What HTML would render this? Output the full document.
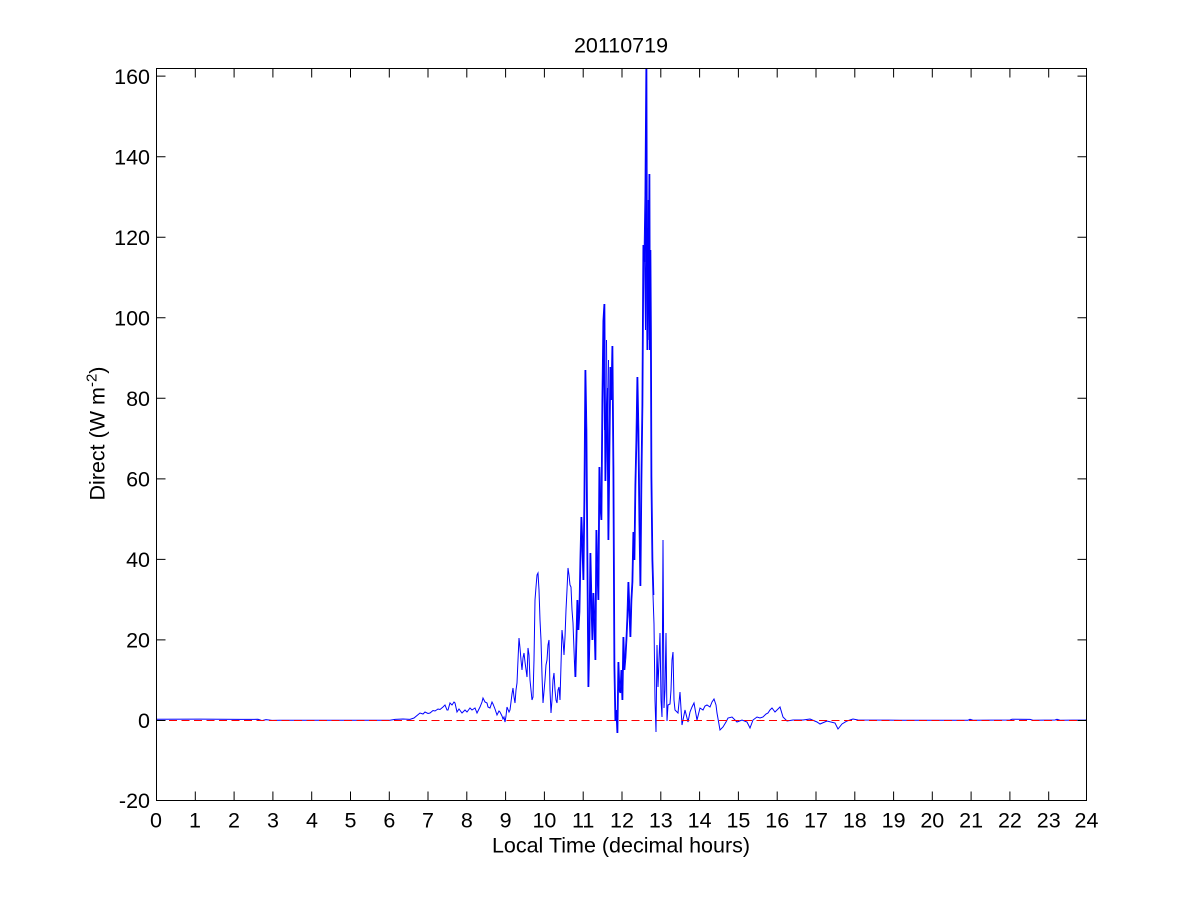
<!DOCTYPE html>
<html>
<head>
<meta charset="utf-8">
<style>
  html,body{margin:0;padding:0;background:#fff;}
  svg{display:block;}
  text{font-family:"Liberation Sans", Arial, sans-serif;fill:#000;}
</style>
</head>
<body>
<svg width="1201" height="900" viewBox="0 0 1201 900" xmlns="http://www.w3.org/2000/svg">
  <rect x="0" y="0" width="1201" height="900" fill="#fff"/>
  <defs>
    <clipPath id="plot"><rect x="156.5" y="68.5" width="930" height="732"/></clipPath>
  </defs>

  <!-- data -->
  <g clip-path="url(#plot)">
    <polyline fill="none" stroke="#0000ff" stroke-width="1" stroke-linejoin="miter" points="
156.5,719.3 200,719.1 240,719.4 258,719.3 262,720.6 266,719.6 272,720.4 280,720.2 390,720.2 395,719.4 403,719 410,719.4 414,718 420,713 423,714 425,712 428,713.5 430,713 433,710.5 435,711 438,709 440,709.5 443,707 445,705 447,710 448,710 450,703 452,705 454,702 455,703 457,712 459,709 462,713 465,710 467,712 470,708 472,710 475,708 477,713 479,709 480,707 482,702 483,698 485,702 487,703 488,707 490,708 492,702 493,704 495,709 497,715 499,711 500,712 502,716 503,719 504,717 505,722 506,716 507,707 509,712 510,710 512,694 513,688 514,697 515,703 516,690 517,683 518,660 519,638 520,648 521,660 522,670 523,658 524,653 525,662 527,677 528,648 529,655 530,680 531,690 532,700 533,697 534,660 535,600 536,587 537,575 538,573 539,590 540,620 541,640 542,675 543,703 545,680 546,665 547,660 548,645 549,640 550,690 551,713 552,700 553,680 554,673 555,690 556,700 557,703 558,690 559,687 560,700 561,665 562,630 563,640 564,655 565,637 566,610 567,590 568,568 569,575 570,585 571,587 572,610 573,623 574,650 575,677 576,640 577,600 578,630 579,612 580,560 581,517 582,545 583,580 584,500 585,370 586,430 587,560 588,687 589,640 590,553 591,600 592,640 593,593 594,620 595,660 596,530 597,570 598,600 599,467 600,506 601,520 602,400 603,321 604,304 605,481 606,420 607,388 608,540 609,450 610,367 611,400 612,346 613,468 614,666 615,721 616,710 617,733 618,662 619,690 620,693 621,670 622,700 623,637 624,670 625,658 626,640 627,617 628,582 629,610 630,637 631,600 632,582 633,532 634,560 635,485 636,440 637,377 638,430 639,520 640,586 641,480 642,405 643,245 644,262 645,195 646,60 646.6,300 647,350 647.5,260 648,228 648.5,260 649,174 649.5,350 650,250 650.5,330 651,477 652,560 653,595 654,624 655,700 656,732 657,645 658,687 659,660 660,633 661,700 662,717 663,540 664,708 665,690 666,633 667,721 668,705 670,704 671,690 672,660 673,652 674,700 675,710 677,712 678,713 680,692 682,725 685,710 688,722 690,712 692,707 694,703 697,720 700,708 703,710 705,706 707,705 710,707 712,702 714,699 716,705 717,713 720,730 723,727 726,722 728,718 732,717 735,720 737,722 742,720 747,722 750,728 753,720 757,717 760,718 763,717 766,714 768,713 770,710 772,708 775,712 778,709 780,707 783,717 787,721 793,720 803,720 810,719 817,722 820,724 827,721 835,723 838,729 842,724 847,721 853,719 858,720 900,720.2 968,720.2 970,719.3 973,720.2 1010,720 1012,719.2 1030,719.4 1033,720.2 1055,720 1057,719.3 1060,720.2 1086,720 1087,719"/>
    <!-- densifying overlay for the busy midday region -->
    <polyline fill="none" stroke="#0000ff" stroke-width="1" transform="translate(0.8,0)" points="
575,677 576,640 577,600 578,630 579,612 580,560 581,517 582,545 583,580 584,500 585,370 586,430 587,560 588,687 589,640 590,553 591,600 592,640 593,593 594,620 595,660 596,530 597,570 598,600 599,467 600,506 601,520 602,400 603,321 604,304 605,481 606,420 607,388 608,540 609,450 610,367 611,400 612,346 613,468 614,666 615,721 616,710 617,733 618,662 619,690 620,693 621,670 622,700 623,637 624,670 625,658 626,640 627,617 628,582 629,610 630,637 631,600 632,582 633,532 634,560 635,485 636,440 637,377 638,430 639,520 640,586 641,480 642,405 643,245 644,262 645,195 646,60 646.6,300 647,350 647.5,260 648,228 648.5,260 649,174 649.5,350 650,250 650.5,330 651,477 652,560 653,595"/>
    <path fill="none" stroke="#0000ff" stroke-width="1" d="M646.5,180 L647.5,330 L648.2,200 L649.2,340 M644.5,250 L645.5,330 L646,200 M606.5,340 L607.5,470 L608.5,360 M603.5,330 L604.5,430"/>
    <line x1="156.5" y1="720.5" x2="1086.5" y2="720.5" stroke="#ff0000" stroke-width="1" stroke-dasharray="8 4.5"/>
  </g>

  <!-- axes box -->
  <rect x="156.5" y="68.5" width="930" height="732" fill="none" stroke="#000" stroke-width="1"/>

  <!-- ticks -->
  <g stroke="#000" stroke-width="1">
    <path d="
M156.5,800.5v-9 M195.3,800.5v-9 M234.1,800.5v-9 M272.9,800.5v-9 M311.7,800.5v-9 M350.5,800.5v-9 M389.3,800.5v-9 M428.0,800.5v-9 M466.8,800.5v-9 M505.6,800.5v-9 M544.4,800.5v-9 M583.2,800.5v-9 M622.0,800.5v-9 M660.8,800.5v-9 M699.6,800.5v-9 M738.4,800.5v-9 M777.2,800.5v-9 M816.0,800.5v-9 M854.8,800.5v-9 M893.6,800.5v-9 M932.3,800.5v-9 M971.1,800.5v-9 M1009.9,800.5v-9 M1048.7,800.5v-9 M1086.5,800.5v-9
M156.5,68.5v9 M195.3,68.5v9 M234.1,68.5v9 M272.9,68.5v9 M311.7,68.5v9 M350.5,68.5v9 M389.3,68.5v9 M428.0,68.5v9 M466.8,68.5v9 M505.6,68.5v9 M544.4,68.5v9 M583.2,68.5v9 M622.0,68.5v9 M660.8,68.5v9 M699.6,68.5v9 M738.4,68.5v9 M777.2,68.5v9 M816.0,68.5v9 M854.8,68.5v9 M893.6,68.5v9 M932.3,68.5v9 M971.1,68.5v9 M1009.9,68.5v9 M1048.7,68.5v9 M1086.5,68.5v9
M156.5,800.5h9 M156.5,720.5h9 M156.5,639.9h9 M156.5,559.4h9 M156.5,478.9h9 M156.5,398.3h9 M156.5,317.8h9 M156.5,237.2h9 M156.5,156.7h9 M156.5,76.1h9
M1086.5,800.5h-9 M1086.5,720.5h-9 M1086.5,639.9h-9 M1086.5,559.4h-9 M1086.5,478.9h-9 M1086.5,398.3h-9 M1086.5,317.8h-9 M1086.5,237.2h-9 M1086.5,156.7h-9 M1086.5,76.1h-9"/>
  </g>

  <!-- x tick labels -->
  <g font-size="21.5" text-anchor="middle">
    <text x="156" y="827.5">0</text>
    <text x="195" y="827.5">1</text>
    <text x="234" y="827.5">2</text>
    <text x="273" y="827.5">3</text>
    <text x="312" y="827.5">4</text>
    <text x="350.5" y="827.5">5</text>
    <text x="389.3" y="827.5">6</text>
    <text x="428" y="827.5">7</text>
    <text x="466.8" y="827.5">8</text>
    <text x="505.6" y="827.5">9</text>
    <text x="544.4" y="827.5">10</text>
    <text x="583.2" y="827.5">11</text>
    <text x="622" y="827.5">12</text>
    <text x="660.8" y="827.5">13</text>
    <text x="699.6" y="827.5">14</text>
    <text x="738.4" y="827.5">15</text>
    <text x="777.2" y="827.5">16</text>
    <text x="816" y="827.5">17</text>
    <text x="854.8" y="827.5">18</text>
    <text x="893.6" y="827.5">19</text>
    <text x="932.3" y="827.5">20</text>
    <text x="971.1" y="827.5">21</text>
    <text x="1009.9" y="827.5">22</text>
    <text x="1048.7" y="827.5">23</text>
    <text x="1086.5" y="827.5">24</text>
  </g>

  <!-- y tick labels -->
  <g font-size="21.5" text-anchor="end">
    <text x="150" y="808.2">-20</text>
    <text x="150" y="728.2">0</text>
    <text x="150" y="647.6">20</text>
    <text x="150" y="567.1">40</text>
    <text x="150" y="486.6">60</text>
    <text x="150" y="406">80</text>
    <text x="150" y="325.5">100</text>
    <text x="150" y="244.9">120</text>
    <text x="150" y="164.4">140</text>
    <text x="150" y="83.8">160</text>
  </g>

  <!-- title -->
  <text x="621" y="52.5" font-size="21.5" text-anchor="middle">20110719</text>

  <!-- x label -->
  <text x="621" y="852.5" font-size="21.5" text-anchor="middle">Local Time (decimal hours)</text>

  <!-- y label -->
  <text transform="translate(104.5,433.5) rotate(-90)" font-size="21.5" text-anchor="middle">Direct (W m<tspan font-size="15" dy="-8">-2</tspan><tspan dy="8">)</tspan></text>
</svg>
</body>
</html>
